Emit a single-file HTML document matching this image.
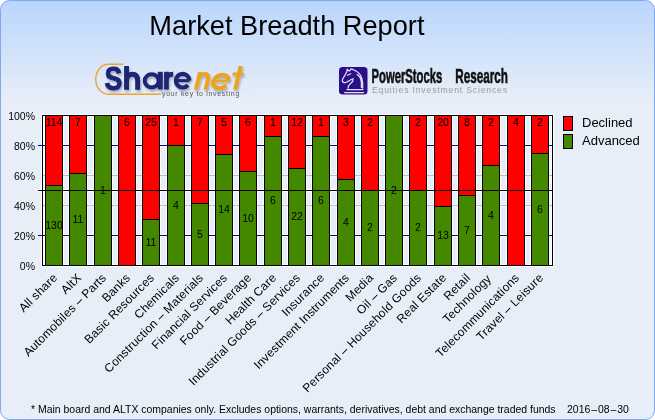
<!DOCTYPE html>
<html><head><meta charset="utf-8"><style>
html,body{margin:0;padding:0;width:655px;height:420px;overflow:hidden;background:#fff}
svg{display:block;will-change:transform}
</style></head><body>
<svg width="655" height="420" viewBox="0 0 655 420">
<defs>
<linearGradient id="bg" x1="0" y1="0" x2="0" y2="420" gradientUnits="userSpaceOnUse">
<stop offset="0" stop-color="#b9d5fd"/>
<stop offset="0.2381" stop-color="#e8eef8"/>
<stop offset="1" stop-color="#e8eef8"/>
</linearGradient>
<filter id="sh" x="-10%" y="-10%" width="120%" height="130%">
<feGaussianBlur in="SourceAlpha" stdDeviation="0.8"/>
<feOffset dx="1.2" dy="1.5" result="o"/>
<feComponentTransfer><feFuncA type="linear" slope="0.28"/></feComponentTransfer>
<feMerge><feMergeNode/><feMergeNode in="SourceGraphic"/></feMerge>
</filter>
</defs>
<rect x="0.5" y="0.5" width="654" height="419" rx="9" ry="9" fill="url(#bg)" stroke="#84a8ec" stroke-width="1"/>
<text transform="translate(286.9,35) scale(0.9715,1)" text-anchor="middle" font-family="'Liberation Sans', sans-serif" font-size="28" fill="#000">Market Breadth Report</text>

<!-- Sharenet logo -->
<path d="M123,64.3 H108.5 A12.8,15 0 0 0 108.5,94.3 H161" fill="none" stroke="#e9a535" stroke-width="1.4"/>
<g filter="url(#sh)">
<text transform="translate(104.6,89.5) scale(0.81,1.0)" font-family="'Liberation Sans', sans-serif" font-weight="bold" font-size="33" fill="#1a2572" stroke="#1a2572" stroke-width="0.9">S</text>
<path d="M126.55,66 V89.8 M126.55,80.5 C126.55,76.5 129.2,74.2 132.5,74.2 C135.8,74.2 137.65,76.5 137.65,80.5 V89.8" fill="none" stroke="#1a2572" stroke-width="4.9"/>
<ellipse cx="151.7" cy="80.8" rx="7.0" ry="6.6" fill="none" stroke="#1a2572" stroke-width="4.0"/>
<path d="M160.25,71.8 V89.4" fill="none" stroke="#1a2572" stroke-width="5.0"/>
<path d="M166.45,71.8 V89.4 M166.45,80 C166.45,76 168.8,74.2 173.2,74.2" fill="none" stroke="#1a2572" stroke-width="4.7"/>
<path d="M176,80.6 H189.4" fill="none" stroke="#1a2572" stroke-width="3"/><path d="M189.4,80.6 A6.75,6.8 0 1 0 187.9,85.0" fill="none" stroke="#1a2572" stroke-width="4.1"/>
<g transform="translate(0,89.5) skewX(-13) translate(0,-89.5)" fill="none" stroke="#eba320">
<path d="M196,72 V89.5 M196,80.5 C196,76.2 198.5,74 201,74 C204,74 205.6,76.2 205.6,80.5 V89.5" stroke-width="4.1"/>
<path d="M211.6,80.9 H226.4" stroke-width="2.8"/>
<path d="M226.4,80.9 A7.5,6.75 0 1 0 225.2,85.2" stroke-width="4.1"/>
<path d="M235.2,66 V89.5" stroke-width="4.1"/>
<path d="M229,74 H240.2" stroke-width="3"/>
</g>
</g>
<text x="162" y="96.4" font-family="'Liberation Sans', sans-serif" font-size="6.9" letter-spacing="0.72" fill="#55555c">your key to investing</text>

<!-- PowerStocks logo -->
<rect x="339" y="67" width="28.5" height="27.5" rx="3.5" ry="3.5" fill="#2a1088"/>
<path d="M347.29,69.19 C347.16,69.70 346.97,71.16 346.52,72.24 C346.08,73.32 345.25,74.52 344.62,75.67 C343.98,76.81 343.10,78.21 342.71,79.10 C342.33,79.98 342.21,80.45 342.33,81.00 C342.46,81.55 342.97,82.12 343.48,82.37 C343.98,82.63 344.56,82.73 345.38,82.52 C346.21,82.32 347.16,81.79 348.43,81.15 C349.70,80.52 352.24,79.12 353.00,78.71 M353.00,78.71 C352.94,79.16 353.13,80.49 352.62,81.38 C352.11,82.27 350.65,83.22 349.95,84.05 C349.25,84.87 348.75,85.63 348.43,86.33 C348.11,87.03 348.11,87.92 348.05,88.24 M347.29,69.19 C347.60,69.48 348.56,71.01 349.19,70.94 C349.83,70.88 350.78,69.17 351.10,68.81 M351.10,68.81 C351.79,69.13 353.95,69.95 355.29,70.71 C356.62,71.48 358.08,72.30 359.10,73.38 C360.11,74.46 360.81,75.79 361.38,77.19 C361.95,78.59 362.30,79.92 362.52,81.76 C362.75,83.60 362.71,87.16 362.75,88.24 M357.19,74.52 C357.63,74.97 359.18,76.05 359.86,77.19 C360.53,78.33 360.97,79.67 361.23,81.38 C361.48,83.10 361.36,86.46 361.38,87.48 M347.67,75.29 C348.17,75.03 350.21,74.02 350.71,73.76 M346.9,89.5 L362.9,89.5 M344.6,92.5 L363.7,92.5" fill="none" stroke="#e4def8" stroke-width="1.25" stroke-linecap="round" stroke-linejoin="round"/>
<text transform="translate(371.5,82.8) scale(0.575,1)" font-family="'Liberation Sans', sans-serif" font-weight="bold" font-size="19.6" fill="#111" stroke="#111" stroke-width="0.6">PowerStocks</text>
<text transform="translate(455.2,82.8) scale(0.597,1)" font-family="'Liberation Sans', sans-serif" font-weight="bold" font-size="19.6" fill="#111" stroke="#111" stroke-width="0.6">Research</text>
<text x="372" y="92.6" font-family="'Liberation Sans', sans-serif" font-size="8.7" letter-spacing="0.8" fill="#9c9c9c">Equities Investment Sciences</text>

<g shape-rendering="crispEdges">
<rect x="41.5" y="114.5" width="512" height="152" fill="none" stroke="#ffffff" stroke-width="1"/>
<rect x="43.5" y="116.5" width="508" height="148" fill="none" stroke="#ffffff" stroke-width="1"/>
<rect x="44" y="116" width="1" height="149" fill="#ffffff"/>
<rect x="63" y="116" width="1" height="149" fill="#ffffff"/>
<rect x="68" y="116" width="1" height="149" fill="#ffffff"/>
<rect x="87" y="116" width="1" height="149" fill="#ffffff"/>
<rect x="93" y="116" width="1" height="149" fill="#ffffff"/>
<rect x="112" y="116" width="1" height="149" fill="#ffffff"/>
<rect x="117" y="116" width="1" height="149" fill="#ffffff"/>
<rect x="136" y="116" width="1" height="149" fill="#ffffff"/>
<rect x="141" y="116" width="1" height="149" fill="#ffffff"/>
<rect x="160" y="116" width="1" height="149" fill="#ffffff"/>
<rect x="166" y="116" width="1" height="149" fill="#ffffff"/>
<rect x="185" y="116" width="1" height="149" fill="#ffffff"/>
<rect x="190" y="116" width="1" height="149" fill="#ffffff"/>
<rect x="209" y="116" width="1" height="149" fill="#ffffff"/>
<rect x="214" y="116" width="1" height="149" fill="#ffffff"/>
<rect x="233" y="116" width="1" height="149" fill="#ffffff"/>
<rect x="238" y="116" width="1" height="149" fill="#ffffff"/>
<rect x="257" y="116" width="1" height="149" fill="#ffffff"/>
<rect x="263" y="116" width="1" height="149" fill="#ffffff"/>
<rect x="282" y="116" width="1" height="149" fill="#ffffff"/>
<rect x="287" y="116" width="1" height="149" fill="#ffffff"/>
<rect x="306" y="116" width="1" height="149" fill="#ffffff"/>
<rect x="311" y="116" width="1" height="149" fill="#ffffff"/>
<rect x="330" y="116" width="1" height="149" fill="#ffffff"/>
<rect x="336" y="116" width="1" height="149" fill="#ffffff"/>
<rect x="355" y="116" width="1" height="149" fill="#ffffff"/>
<rect x="360" y="116" width="1" height="149" fill="#ffffff"/>
<rect x="379" y="116" width="1" height="149" fill="#ffffff"/>
<rect x="384" y="116" width="1" height="149" fill="#ffffff"/>
<rect x="403" y="116" width="1" height="149" fill="#ffffff"/>
<rect x="408" y="116" width="1" height="149" fill="#ffffff"/>
<rect x="427" y="116" width="1" height="149" fill="#ffffff"/>
<rect x="433" y="116" width="1" height="149" fill="#ffffff"/>
<rect x="452" y="116" width="1" height="149" fill="#ffffff"/>
<rect x="457" y="116" width="1" height="149" fill="#ffffff"/>
<rect x="476" y="116" width="1" height="149" fill="#ffffff"/>
<rect x="481" y="116" width="1" height="149" fill="#ffffff"/>
<rect x="500" y="116" width="1" height="149" fill="#ffffff"/>
<rect x="506" y="116" width="1" height="149" fill="#ffffff"/>
<rect x="525" y="116" width="1" height="149" fill="#ffffff"/>
<rect x="530" y="116" width="1" height="149" fill="#ffffff"/>
<rect x="549" y="116" width="1" height="149" fill="#ffffff"/>
<rect x="43" y="144" width="509" height="1" fill="#ffffff"/>
<rect x="43" y="146" width="509" height="1" fill="#ffffff"/>
<rect x="43" y="145" width="509" height="1" fill="#14007a"/>
<rect x="38" y="145" width="4" height="1" fill="#14007a"/>
<rect x="43" y="234" width="509" height="1" fill="#ffffff"/>
<rect x="43" y="236" width="509" height="1" fill="#ffffff"/>
<rect x="43" y="235" width="509" height="1" fill="#14007a"/>
<rect x="38" y="235" width="4" height="1" fill="#14007a"/>
<rect x="43" y="174" width="509" height="1" fill="#f4f8fd"/>
<rect x="43" y="176" width="509" height="1" fill="#f4f8fd"/>
<rect x="43" y="175" width="509" height="1" fill="#bdbdbd"/>
<rect x="43" y="204" width="509" height="1" fill="#f4f8fd"/>
<rect x="43" y="206" width="509" height="1" fill="#f4f8fd"/>
<rect x="43" y="205" width="509" height="1" fill="#bdbdbd"/>
<rect x="38" y="189" width="515" height="1" fill="#ffffff"/>
<rect x="38" y="191" width="515" height="1" fill="#ffffff"/>
<rect x="42.5" y="115.5" width="510" height="150" fill="none" stroke="#000" stroke-width="1"/>
<rect x="45" y="115" width="18" height="151" fill="#000"/>
<rect x="46" y="116" width="16" height="69" fill="#ff0000"/>
<rect x="46" y="186" width="16" height="79" fill="#448800"/>
<rect x="69" y="115" width="18" height="151" fill="#000"/>
<rect x="70" y="116" width="16" height="57" fill="#ff0000"/>
<rect x="70" y="174" width="16" height="91" fill="#448800"/>
<rect x="94" y="115" width="18" height="151" fill="#000"/>
<rect x="95" y="116" width="16" height="149" fill="#448800"/>
<rect x="118" y="115" width="18" height="151" fill="#000"/>
<rect x="119" y="116" width="16" height="149" fill="#ff0000"/>
<rect x="142" y="115" width="18" height="151" fill="#000"/>
<rect x="143" y="116" width="16" height="103" fill="#ff0000"/>
<rect x="143" y="220" width="16" height="45" fill="#448800"/>
<rect x="167" y="115" width="18" height="151" fill="#000"/>
<rect x="168" y="116" width="16" height="29" fill="#ff0000"/>
<rect x="168" y="146" width="16" height="119" fill="#448800"/>
<rect x="191" y="115" width="18" height="151" fill="#000"/>
<rect x="192" y="116" width="16" height="87" fill="#ff0000"/>
<rect x="192" y="204" width="16" height="61" fill="#448800"/>
<rect x="215" y="115" width="18" height="151" fill="#000"/>
<rect x="216" y="116" width="16" height="38" fill="#ff0000"/>
<rect x="216" y="155" width="16" height="110" fill="#448800"/>
<rect x="239" y="115" width="18" height="151" fill="#000"/>
<rect x="240" y="116" width="16" height="55" fill="#ff0000"/>
<rect x="240" y="172" width="16" height="93" fill="#448800"/>
<rect x="264" y="115" width="18" height="151" fill="#000"/>
<rect x="265" y="116" width="16" height="20" fill="#ff0000"/>
<rect x="265" y="137" width="16" height="128" fill="#448800"/>
<rect x="288" y="115" width="18" height="151" fill="#000"/>
<rect x="289" y="116" width="16" height="52" fill="#ff0000"/>
<rect x="289" y="169" width="16" height="96" fill="#448800"/>
<rect x="312" y="115" width="18" height="151" fill="#000"/>
<rect x="313" y="116" width="16" height="20" fill="#ff0000"/>
<rect x="313" y="137" width="16" height="128" fill="#448800"/>
<rect x="337" y="115" width="18" height="151" fill="#000"/>
<rect x="338" y="116" width="16" height="63" fill="#ff0000"/>
<rect x="338" y="180" width="16" height="85" fill="#448800"/>
<rect x="361" y="115" width="18" height="151" fill="#000"/>
<rect x="362" y="116" width="16" height="74" fill="#ff0000"/>
<rect x="362" y="191" width="16" height="74" fill="#448800"/>
<rect x="385" y="115" width="18" height="151" fill="#000"/>
<rect x="386" y="116" width="16" height="149" fill="#448800"/>
<rect x="409" y="115" width="18" height="151" fill="#000"/>
<rect x="410" y="116" width="16" height="74" fill="#ff0000"/>
<rect x="410" y="191" width="16" height="74" fill="#448800"/>
<rect x="434" y="115" width="18" height="151" fill="#000"/>
<rect x="435" y="116" width="16" height="90" fill="#ff0000"/>
<rect x="435" y="207" width="16" height="58" fill="#448800"/>
<rect x="458" y="115" width="18" height="151" fill="#000"/>
<rect x="459" y="116" width="16" height="79" fill="#ff0000"/>
<rect x="459" y="196" width="16" height="69" fill="#448800"/>
<rect x="482" y="115" width="18" height="151" fill="#000"/>
<rect x="483" y="116" width="16" height="49" fill="#ff0000"/>
<rect x="483" y="166" width="16" height="99" fill="#448800"/>
<rect x="507" y="115" width="18" height="151" fill="#000"/>
<rect x="508" y="116" width="16" height="149" fill="#ff0000"/>
<rect x="531" y="115" width="18" height="151" fill="#000"/>
<rect x="532" y="116" width="16" height="37" fill="#ff0000"/>
<rect x="532" y="154" width="16" height="111" fill="#448800"/>
<rect x="38" y="190" width="515" height="1" fill="#000"/>
</g>
<g font-family="'Liberation Sans', sans-serif" font-size="10.5" fill="#000">
<text x="54.0" y="125.6" text-anchor="middle">114</text>
<text x="54.0" y="228.5" text-anchor="middle">130</text>
<text x="78.0" y="125.6" text-anchor="middle">7</text>
<text x="78.0" y="222.5" text-anchor="middle">11</text>
<text x="103.0" y="193.5" text-anchor="middle">1</text>
<text x="127.0" y="125.6" text-anchor="middle">6</text>
<text x="151.0" y="125.6" text-anchor="middle">25</text>
<text x="151.0" y="245.5" text-anchor="middle">11</text>
<text x="176.0" y="125.6" text-anchor="middle">1</text>
<text x="176.0" y="208.5" text-anchor="middle">4</text>
<text x="200.0" y="125.6" text-anchor="middle">7</text>
<text x="200.0" y="237.5" text-anchor="middle">5</text>
<text x="224.0" y="125.6" text-anchor="middle">5</text>
<text x="224.0" y="213.0" text-anchor="middle">14</text>
<text x="248.0" y="125.6" text-anchor="middle">6</text>
<text x="248.0" y="221.5" text-anchor="middle">10</text>
<text x="273.0" y="125.6" text-anchor="middle">1</text>
<text x="273.0" y="204.0" text-anchor="middle">6</text>
<text x="297.0" y="125.6" text-anchor="middle">12</text>
<text x="297.0" y="220.0" text-anchor="middle">22</text>
<text x="321.0" y="125.6" text-anchor="middle">1</text>
<text x="321.0" y="204.0" text-anchor="middle">6</text>
<text x="346.0" y="125.6" text-anchor="middle">3</text>
<text x="346.0" y="225.5" text-anchor="middle">4</text>
<text x="370.0" y="125.6" text-anchor="middle">2</text>
<text x="370.0" y="231.0" text-anchor="middle">2</text>
<text x="394.0" y="193.5" text-anchor="middle">2</text>
<text x="418.0" y="125.6" text-anchor="middle">2</text>
<text x="418.0" y="231.0" text-anchor="middle">2</text>
<text x="443.0" y="125.6" text-anchor="middle">20</text>
<text x="443.0" y="239.0" text-anchor="middle">13</text>
<text x="467.0" y="125.6" text-anchor="middle">8</text>
<text x="467.0" y="233.5" text-anchor="middle">7</text>
<text x="491.0" y="125.6" text-anchor="middle">2</text>
<text x="491.0" y="218.5" text-anchor="middle">4</text>
<text x="516.0" y="125.6" text-anchor="middle">4</text>
<text x="540.0" y="125.6" text-anchor="middle">2</text>
<text x="540.0" y="212.5" text-anchor="middle">6</text>
<text x="35" y="120" text-anchor="end">100%</text>
<text x="35" y="150" text-anchor="end">80%</text>
<text x="35" y="180" text-anchor="end">60%</text>
<text x="35" y="210" text-anchor="end">40%</text>
<text x="35" y="240" text-anchor="end">20%</text>
<text x="35" y="270" text-anchor="end">0%</text>
</g>
<g font-family="'Liberation Sans', sans-serif" font-size="12" letter-spacing="0.2" fill="#000">
<text text-anchor="end" transform="translate(58.0,278.5) rotate(-45)">All share</text>
<text text-anchor="end" transform="translate(82.0,278.5) rotate(-45)">AltX</text>
<text text-anchor="end" transform="translate(107.0,278.5) rotate(-45)">Automobiles – Parts</text>
<text text-anchor="end" transform="translate(131.0,278.5) rotate(-45)">Banks</text>
<text text-anchor="end" transform="translate(155.0,278.5) rotate(-45)">Basic Resources</text>
<text text-anchor="end" transform="translate(180.0,278.5) rotate(-45)">Chemicals</text>
<text text-anchor="end" transform="translate(204.0,278.5) rotate(-45)">Construction – Materials</text>
<text text-anchor="end" transform="translate(228.0,278.5) rotate(-45)">Financial Services</text>
<text text-anchor="end" transform="translate(252.0,278.5) rotate(-45)">Food – Beverage</text>
<text text-anchor="end" transform="translate(277.0,278.5) rotate(-45)">Health Care</text>
<text text-anchor="end" transform="translate(301.0,278.5) rotate(-45)">Industrial Goods – Services</text>
<text text-anchor="end" transform="translate(325.0,278.5) rotate(-45)">Insurance</text>
<text text-anchor="end" transform="translate(350.0,278.5) rotate(-45)">Investment Instruments</text>
<text text-anchor="end" transform="translate(374.0,278.5) rotate(-45)">Media</text>
<text text-anchor="end" transform="translate(398.0,278.5) rotate(-45)">Oil – Gas</text>
<text text-anchor="end" transform="translate(422.0,278.5) rotate(-45)">Personal – Household Goods</text>
<text text-anchor="end" transform="translate(447.0,278.5) rotate(-45)">Real Estate</text>
<text text-anchor="end" transform="translate(471.0,278.5) rotate(-45)">Retail</text>
<text text-anchor="end" transform="translate(492.0,279.5) rotate(-45)">Technology</text>
<text text-anchor="end" transform="translate(520.0,278.5) rotate(-45)">Telecommunications</text>
<text text-anchor="end" transform="translate(544.0,278.5) rotate(-45)">Travel – Leisure</text>
</g>
<rect x="563.5" y="116.5" width="9" height="14" fill="#ff0000" stroke="#000" stroke-width="1" shape-rendering="crispEdges"/>
<rect x="563.5" y="134.5" width="9" height="14" fill="#448800" stroke="#000" stroke-width="1" shape-rendering="crispEdges"/>
<g font-family="'Liberation Sans', sans-serif" font-size="13" fill="#000">
<text x="582" y="127">Declined</text>
<text x="582" y="145">Advanced</text>
</g>
<g font-family="'Liberation Sans', sans-serif" font-size="11.2" fill="#000">
<text transform="translate(31,413.3) scale(0.935,1)">* Main board and ALTX companies only. Excludes options, warrants, derivatives, debt and exchange traded funds</text>
<text transform="translate(567,413.3) scale(0.935,1)">2016<tspan dx="1">–</tspan><tspan dx="1">08</tspan><tspan dx="1">–</tspan><tspan dx="1">30</tspan></text>
</g>
</svg>
</body></html>
